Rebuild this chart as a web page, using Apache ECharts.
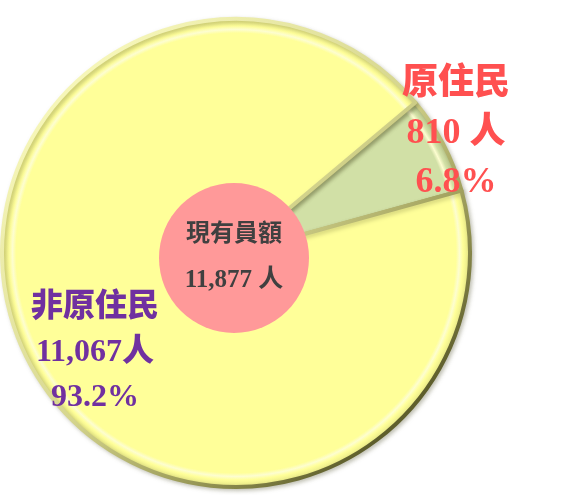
<!DOCTYPE html>
<html>
<head>
<meta charset="utf-8">
<script src="https://cdn.jsdelivr.net/npm/echarts@6/dist/echarts.min.js"></script>
<style>
  html, body { margin: 0; padding: 0; background: #fff; }
  #chart { width: 571px; height: 495px; }
</style>
</head>
<body>
<div id="chart"></div>
<script>
  // data
  const categories = ['原住民', '非原住民'];
  const headcount = [810, 11067];
  const unitGap = [' ', ''];
  const centerTitle = '現有員額';
  const unit = '人';

  const total = headcount.reduce((a, b) => a + b, 0);
  const fmt = (n) => n.toLocaleString('en-US');

  const cx = 236, cy = 253, r = 234;
  const serif = '"Liberation Serif", "Noto Sans CJK TC", serif';

  function fill(base, rim) {
    return new echarts.graphic.RadialGradient(cx, cy, r, [
      { offset: 0, color: base },
      { offset: 0.94, color: base },
      { offset: 0.955, color: '#fdfdd0' },
      { offset: 0.97, color: base },
      { offset: 1, color: rim },
    ], true);
  }

  // light from top-left, dark rim bottom-right
  const rimStroke = new echarts.graphic.LinearGradient(
    cx - r * 0.7, cy - r * 0.7, cx + r * 0.7, cy + r * 0.7, [
      { offset: 0, color: '#f6f6b8' },
      { offset: 0.5, color: '#d6d68e' },
      { offset: 0.78, color: '#9a9a58' },
      { offset: 1, color: '#5e5e2c' },
    ], true);

  const sliceStyle = [
    { base: '#d1e0a6', rim: '#b8c488', text: '#ff5050', size: 36, lh: 49, x: 456, y: 134 },
    { base: '#ffff99', rim: '#e6e685', text: '#7030a0', size: 32, lh: 45, x: 95, y: 353 },
  ];

  const chart = echarts.init(document.getElementById('chart'));
  chart.setOption({
    animation: false,
    series: [
      {
        type: 'pie',
        center: [cx, cy],
        radius: [0, r],
        startAngle: 40,
        clockwise: true,
        percentPrecision: 1,
        silent: true,
        labelLine: { show: false },
        itemStyle: {
          borderColor: rimStroke,
          borderWidth: 4,
          shadowBlur: 4,
          shadowColor: 'rgba(60, 60, 20, 0.25)',
          shadowOffsetX: 2,
          shadowOffsetY: 2,
        },
        label: {
          show: true,
          position: 'inside',
          fontFamily: serif,
          fontWeight: 900,
          formatter: (p) =>
            p.name + '\n' + fmt(p.value) + unitGap[p.dataIndex] + unit + '\n' + p.percent.toFixed(1) + '%',
        },
        labelLayout: (p) => ({
          x: sliceStyle[p.dataIndex].x,
          y: sliceStyle[p.dataIndex].y,
          align: 'center',
          verticalAlign: 'middle',
        }),
        data: categories.map((name, i) => ({
          name,
          value: headcount[i],
          itemStyle: { color: fill(sliceStyle[i].base, sliceStyle[i].rim) },
          label: {
            color: sliceStyle[i].text,
            fontSize: sliceStyle[i].size,
            lineHeight: sliceStyle[i].lh,
          },
        })),
      },
      {
        type: 'pie',
        center: [234, 258],
        radius: [0, 75],
        silent: true,
        labelLine: { show: false },
        itemStyle: { color: '#ff9999' },
        label: {
          show: true,
          position: 'center',
          formatter: () => '{t|' + centerTitle + '}\n{n|' + fmt(total) + ' ' + unit + '}',
          rich: {
            t: { fontFamily: serif, fontWeight: 'bold', fontSize: 24, color: '#404040', lineHeight: 46 },
            n: { fontFamily: serif, fontWeight: 'bold', fontSize: 25, color: '#404040', lineHeight: 46 },
          },
        },
        data: [{ name: centerTitle, value: total }],
      },
    ],
  });

  window.addEventListener('resize', () => chart.resize());
</script>
</body>
</html>
